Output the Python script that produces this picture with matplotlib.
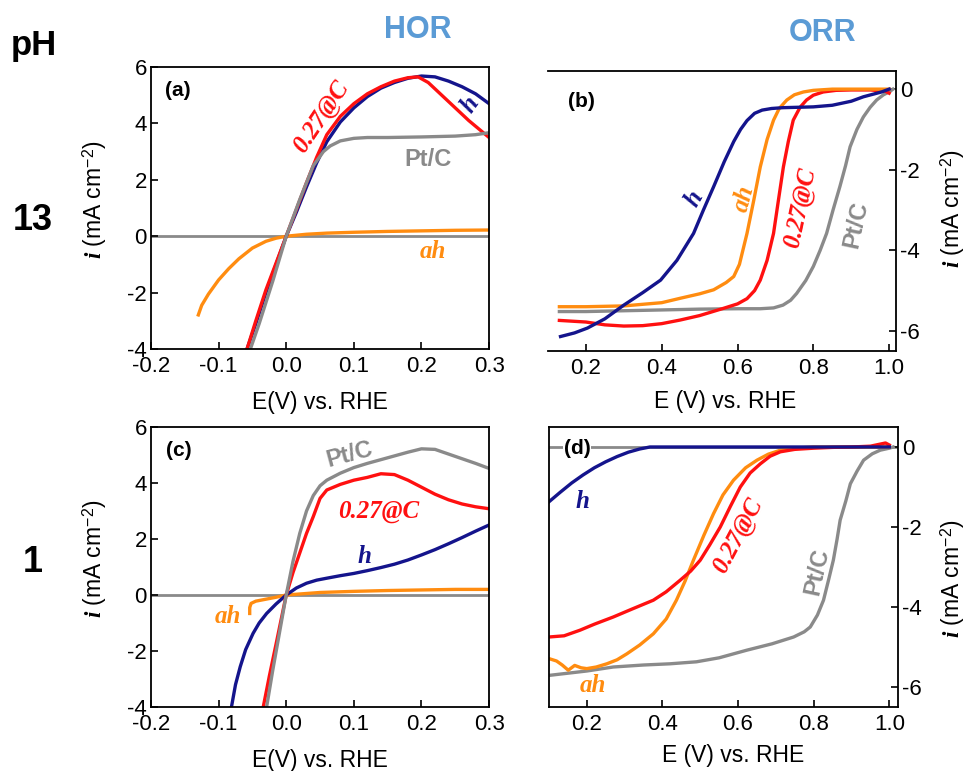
import matplotlib
matplotlib.use('Agg')
import matplotlib.pyplot as plt

plt.rcParams['font.family'] = ['Liberation Sans', 'DejaVu Sans']
plt.rcParams['axes.unicode_minus'] = False
plt.rcParams['mathtext.fontset'] = 'custom'
plt.rcParams['mathtext.rm'] = 'Liberation Sans'
plt.rcParams['mathtext.it'] = 'Liberation Serif:italic:bold'

RED = '#ff1010'
NAVY = '#14148c'
ORANGE = '#ff8c10'
GRAY = '#8a8a8a'
TITLE_BLUE = '#5b9bd5'

# ---- (a) HOR, pH 13 ----
a_red_E = [-0.058, -0.045, -0.03, -0.015, 0.0, 0.015, 0.03, 0.045, 0.06, 0.08, 0.10, 0.12,
           0.14, 0.16, 0.18, 0.195, 0.21, 0.23, 0.25, 0.27, 0.29, 0.30]
a_red_i = [-4.0, -3.0, -1.9, -0.95, 0.0, 0.95, 1.9, 2.8, 3.6, 4.25, 4.7, 5.05,
           5.3, 5.5, 5.62, 5.65, 5.45, 5.0, 4.55, 4.1, 3.7, 3.5]
a_h_E = [-0.058, -0.045, -0.03, -0.015, 0.0, 0.015, 0.03, 0.045, 0.06, 0.08, 0.10, 0.12,
         0.14, 0.16, 0.18, 0.20, 0.22, 0.24, 0.26, 0.28, 0.30]
a_h_i = [-4.0, -3.1, -2.0, -1.0, 0.0, 0.85, 1.75, 2.6, 3.35, 4.05, 4.55, 4.95,
         5.25, 5.45, 5.6, 5.68, 5.65, 5.5, 5.3, 5.05, 4.7]
a_pt_E = [-0.053, -0.04, -0.02, 0.0, 0.02, 0.04, 0.055, 0.065, 0.08, 0.10, 0.12, 0.15,
          0.20, 0.25, 0.28, 0.30]
a_pt_i = [-4.0, -3.1, -1.6, 0.0, 1.3, 2.5, 3.0, 3.2, 3.38, 3.47, 3.5, 3.5,
          3.52, 3.55, 3.6, 3.67]
a_ah_E = [-0.13, -0.125, -0.115, -0.10, -0.085, -0.07, -0.05, -0.03, -0.015, 0.0, 0.03,
          0.06, 0.1, 0.15, 0.2, 0.25, 0.3]
a_ah_i = [-2.79, -2.45, -2.05, -1.55, -1.15, -0.8, -0.42, -0.18, -0.07, 0.0, 0.07,
          0.11, 0.14, 0.17, 0.19, 0.21, 0.22]

# ---- (b) ORR, pH 13 ----
b_h_E = [0.133, 0.17, 0.204, 0.25, 0.3, 0.35, 0.397, 0.44, 0.484, 0.51, 0.537, 0.565, 0.59,
         0.608, 0.625, 0.645, 0.665, 0.69, 0.72, 0.76, 0.8, 0.85, 0.9, 0.932, 0.96, 0.98, 1.0]
b_h_i = [-6.14, -6.05, -5.93, -5.7, -5.36, -5.05, -4.74, -4.25, -3.58, -3.0, -2.42, -1.8, -1.3,
         -1.0, -0.78, -0.6, -0.52, -0.48, -0.46, -0.45, -0.44, -0.4, -0.3, -0.19, -0.12, -0.07, 0.0]
b_ah_E = [0.13, 0.2, 0.3, 0.4, 0.449, 0.5, 0.537, 0.57, 0.59, 0.605, 0.625, 0.643, 0.66,
          0.678, 0.695, 0.71, 0.73, 0.75, 0.774, 0.8, 0.85, 0.9, 1.0]
b_ah_i = [-5.4, -5.4, -5.38, -5.3, -5.19, -5.08, -4.98, -4.8, -4.65, -4.35, -3.58, -2.75, -1.93,
          -1.25, -0.77, -0.48, -0.27, -0.14, -0.07, -0.03, 0.0, 0.0, 0.0]
b_red_E = [0.13, 0.2, 0.25, 0.3, 0.35, 0.4, 0.449, 0.5, 0.563, 0.6, 0.625, 0.645, 0.66, 0.678,
           0.695, 0.708, 0.721, 0.734, 0.747, 0.765, 0.782, 0.8, 0.826, 0.86, 0.9, 0.95, 0.99, 1.0]
b_red_i = [-5.74, -5.78, -5.85, -5.88, -5.87, -5.82, -5.73, -5.62, -5.44, -5.33, -5.2, -5.0,
           -4.74, -4.25, -3.58, -2.75, -1.93, -1.3, -0.77, -0.45, -0.27, -0.15, -0.07, -0.03,
           -0.02, -0.02, -0.05, -0.1]
b_pt_E = [0.13, 0.2, 0.3, 0.4, 0.5, 0.6, 0.66, 0.695, 0.72, 0.74, 0.756, 0.78, 0.8, 0.818,
          0.835, 0.852, 0.87, 0.885, 0.897, 0.915, 0.932, 0.95, 0.967, 0.985, 1.0, 1.01]
b_pt_i = [-5.52, -5.52, -5.5, -5.48, -5.46, -5.45, -5.45, -5.43, -5.36, -5.24, -5.07, -4.75,
          -4.4, -4.0, -3.58, -3.0, -2.42, -1.9, -1.43, -1.0, -0.69, -0.45, -0.27, -0.14, -0.07, 0.0]

# ---- (c) HOR, pH 1 ----
c_pt_E = [-0.029, -0.02, -0.01, 0.0, 0.01, 0.02, 0.03, 0.04, 0.05, 0.06, 0.08, 0.10, 0.12,
          0.15, 0.18, 0.20, 0.22, 0.25, 0.28, 0.30]
c_pt_i = [-4.0, -2.7, -1.35, 0.0, 1.2, 2.2, 3.0, 3.55, 3.9, 4.1, 4.35, 4.55, 4.7,
          4.9, 5.1, 5.22, 5.2, 4.95, 4.7, 4.52]
c_red_E = [-0.034, -0.025, -0.015, 0.0, 0.01, 0.02, 0.03, 0.04, 0.05, 0.06, 0.08, 0.10, 0.12,
           0.14, 0.16, 0.18, 0.20, 0.22, 0.24, 0.26, 0.28, 0.30]
c_red_i = [-4.0, -2.9, -1.75, 0.0, 0.8, 1.5, 2.2, 2.8, 3.45, 3.75, 3.95, 4.1, 4.2,
           4.33, 4.3, 4.1, 3.85, 3.6, 3.4, 3.25, 3.15, 3.08]
c_h_E = [-0.081, -0.075, -0.068, -0.06, -0.049, -0.04, -0.029, -0.015, 0.0, 0.015, 0.03, 0.045,
         0.06, 0.08, 0.10, 0.12, 0.14, 0.16, 0.18, 0.20, 0.22, 0.24, 0.26, 0.28, 0.30]
c_h_i = [-4.0, -3.2, -2.56, -1.95, -1.37, -1.0, -0.66, -0.32, 0.0, 0.25, 0.42, 0.53,
         0.6, 0.69, 0.77, 0.87, 0.98, 1.1, 1.25, 1.43, 1.62, 1.83, 2.05, 2.28, 2.5]
c_ah_E = [-0.054, -0.054, -0.052, -0.045, -0.03, -0.015, 0.0, 0.05, 0.1, 0.15, 0.2, 0.25, 0.3]
c_ah_i = [-0.66, -0.45, -0.3, -0.22, -0.15, -0.08, 0.0, 0.09, 0.13, 0.16, 0.18, 0.2, 0.2]

# ---- (d) ORR, pH 1 ----
d_h_E = [0.1, 0.13, 0.16, 0.19, 0.22, 0.25, 0.28, 0.31, 0.34, 0.367, 0.4, 0.5, 0.6, 0.7, 0.8,
         0.9, 1.0]
d_h_i = [-1.37, -1.13, -0.9, -0.7, -0.52, -0.37, -0.24, -0.13, -0.05, 0.0, 0, 0, 0, 0, 0, 0, 0]
d_red_E = [0.1, 0.14, 0.182, 0.22, 0.27, 0.32, 0.376, 0.41, 0.447, 0.475, 0.5, 0.525, 0.553,
           0.58, 0.606, 0.632, 0.659, 0.685, 0.712, 0.75, 0.8, 0.85, 0.9, 0.95, 0.99, 1.0]
d_red_i = [-4.75, -4.72, -4.58, -4.43, -4.25, -4.05, -3.83, -3.62, -3.33, -3.1, -2.83, -2.45,
           -2.0, -1.48, -1.0, -0.65, -0.42, -0.23, -0.12, -0.06, -0.03, -0.01, 0.0, 0.02, 0.1, 0.05]
d_ah_E = [0.1, 0.12, 0.135, 0.151, 0.168, 0.185, 0.2, 0.225, 0.253, 0.28, 0.306, 0.34, 0.376,
          0.41, 0.437, 0.46, 0.482, 0.51, 0.535, 0.56, 0.588, 0.62, 0.65, 0.68, 0.712, 0.75,
          0.8, 0.9, 1.0]
d_ah_i = [-5.29, -5.35, -5.45, -5.58, -5.46, -5.52, -5.54, -5.5, -5.42, -5.32, -5.17, -4.95,
          -4.67, -4.3, -3.83, -3.35, -2.83, -2.2, -1.67, -1.2, -0.83, -0.52, -0.33, -0.18,
          -0.08, -0.03, 0.0, 0.0, 0.0]
d_pt_E = [0.1, 0.2, 0.27, 0.35, 0.42, 0.49, 0.55, 0.623, 0.69, 0.747, 0.775, 0.791, 0.81,
          0.826, 0.84, 0.852, 0.862, 0.87, 0.885, 0.897, 0.915, 0.932, 0.955, 0.976, 1.0, 1.01]
d_pt_i = [-5.71, -5.6, -5.5, -5.45, -5.42, -5.37, -5.27, -5.08, -4.92, -4.75, -4.62, -4.5,
          -4.2, -3.83, -3.3, -2.83, -2.3, -1.83, -1.35, -0.92, -0.6, -0.33, -0.17, -0.08,
          -0.03, 0.0]

hor_xticks = [-0.2, -0.1, 0.0, 0.1, 0.2, 0.3]
hor_yticks = [-4, -2, 0, 2, 4, 6]
orr_xticks = [0.2, 0.4, 0.6, 0.8, 1.0]
orr_yticks = [-6, -4, -2, 0]

LW = 2.4
TICK_FS = 16
LAB_FS = 16.5
PANEL_FS = 15
CURVE_FS = 18
ylabel = '$i$ (mA cm$^{-2}$)'

fig = plt.figure(figsize=(9.66, 7.71), dpi=100)
ax_a = fig.add_axes([0.1563, 0.5473, 0.3500, 0.3658])
ax_b = fig.add_axes([0.5673, 0.5447, 0.3602, 0.3632])
ax_c = fig.add_axes([0.1563, 0.0830, 0.3500, 0.3632])
ax_d = fig.add_axes([0.5683, 0.0830, 0.3613, 0.3632])


def style(ax, xticks, yticks, right=False):
    ax.set_xticks(xticks)
    ax.set_xticklabels(['%.1f' % t for t in xticks])
    ax.set_yticks(yticks)
    ax.set_yticklabels(['%d' % t for t in yticks])
    ax.tick_params(direction='in', length=5, width=1.2, labelsize=TICK_FS)
    ax.tick_params(axis='x', pad=5)
    ax.tick_params(axis='y', pad=3)
    for s in ax.spines.values():
        s.set_linewidth(1.3)
    if right:
        ax.yaxis.tick_right()
        ax.yaxis.set_label_position('right')


def serif_label(ax, x, y, s, color, rot=0, size=CURVE_FS):
    ax.text(x, y, s, color=color, rotation=rot, ha='center', va='center',
            fontsize=size, family='Liberation Serif', fontweight='bold', fontstyle='italic')


def sans_label(ax, x, y, s, color, rot=0, size=17):
    ax.text(x, y, s, color=color, rotation=rot, ha='center', va='center',
            fontsize=size, fontweight='bold')


# (a)
ax = ax_a
ax.axhline(0, color=GRAY, lw=2.0, zorder=1)
ax.plot(a_ah_E, a_ah_i, color=ORANGE, lw=LW)
ax.plot(a_h_E, a_h_i, color=NAVY, lw=LW)
ax.plot(a_red_E, a_red_i, color=RED, lw=LW)
ax.plot(a_pt_E, a_pt_i, color=GRAY, lw=LW)
ax.set_xlim(-0.2, 0.3)
ax.set_ylim(-4, 6)
style(ax, hor_xticks, hor_yticks)
ax.set_xlabel('E(V) vs. RHE', fontsize=LAB_FS)
ax.set_ylabel(ylabel, fontsize=LAB_FS)
ax.xaxis.set_label_coords(0.5, -0.15)
ax.yaxis.set_label_coords(-0.125, 0.53)
sans_label(ax, -0.16, 5.16, '(a)', 'black', size=PANEL_FS)
serif_label(ax, 0.0525, 4.24, '0.27@C', RED, rot=56)
serif_label(ax, 0.272, 4.65, 'h', NAVY, rot=55)
sans_label(ax, 0.209, 2.73, 'Pt/C', GRAY)
serif_label(ax, 0.217, -0.55, 'ah', ORANGE)

# (b)
ax = ax_b
ax.plot(b_pt_E, b_pt_i, color=GRAY, lw=LW)
ax.plot(b_red_E, b_red_i, color=RED, lw=LW)
ax.plot(b_ah_E, b_ah_i, color=ORANGE, lw=LW)
ax.plot(b_h_E, b_h_i, color=NAVY, lw=LW)
ax.set_xlim(0.1, 1.018)
ax.set_ylim(-6.5, 0.45)
style(ax, orr_xticks, orr_yticks, right=True)
ax.spines['left'].set_visible(False)
ax.set_xlabel('E (V) vs. RHE', fontsize=LAB_FS)
ax.set_ylabel(ylabel, fontsize=LAB_FS)
ax.xaxis.set_label_coords(0.509, -0.14)
ax.yaxis.set_label_coords(1.12, 0.51)
sans_label(ax, 0.189, -0.31, '(b)', 'black', size=PANEL_FS)
serif_label(ax, 0.487, -2.71, 'h', NAVY, rot=60)
serif_label(ax, 0.616, -2.71, 'ah', ORANGE, rot=75)
serif_label(ax, 0.765, -2.96, '0.27@C', RED, rot=78)
sans_label(ax, 0.912, -3.37, 'Pt/C', GRAY, rot=78)

# (c)
ax = ax_c
ax.axhline(0, color=GRAY, lw=2.0, zorder=1)
ax.plot(c_ah_E, c_ah_i, color=ORANGE, lw=LW)
ax.plot(c_h_E, c_h_i, color=NAVY, lw=LW)
ax.plot(c_red_E, c_red_i, color=RED, lw=LW)
ax.plot(c_pt_E, c_pt_i, color=GRAY, lw=LW)
ax.set_xlim(-0.2, 0.3)
ax.set_ylim(-4, 6)
style(ax, hor_xticks, hor_yticks)
ax.set_xlabel('E(V) vs. RHE', fontsize=LAB_FS)
ax.set_ylabel(ylabel, fontsize=LAB_FS)
ax.xaxis.set_label_coords(0.5, -0.15)
ax.yaxis.set_label_coords(-0.125, 0.53)
sans_label(ax, -0.159, 5.15, '(c)', 'black', size=PANEL_FS)
sans_label(ax, 0.093, 5.0, 'Pt/C', GRAY, rot=15)
serif_label(ax, 0.137, 2.98, '0.27@C', RED)
serif_label(ax, 0.116, 1.37, 'h', NAVY)
serif_label(ax, -0.087, -0.78, 'ah', ORANGE)

# (d)
ax = ax_d
ax.axhline(0, color=GRAY, lw=2.0, zorder=1)
ax.plot(d_pt_E, d_pt_i, color=GRAY, lw=LW)
ax.plot(d_ah_E, d_ah_i, color=ORANGE, lw=LW)
ax.plot(d_red_E, d_red_i, color=RED, lw=LW)
ax.plot(d_h_E, d_h_i, color=NAVY, lw=LW)
ax.set_xlim(0.1, 1.023)
ax.set_ylim(-6.5, 0.5)
style(ax, orr_xticks, orr_yticks, right=True)
ax.set_xlabel('E (V) vs. RHE', fontsize=LAB_FS)
ax.set_ylabel(ylabel, fontsize=LAB_FS)
ax.xaxis.set_label_coords(0.527, -0.132)
ax.yaxis.set_label_coords(1.115, 0.46)
ax.text(0.174, -0.04, '(d)', ha='center', va='center', fontsize=PANEL_FS, fontweight='bold',
        bbox=dict(facecolor='white', edgecolor='none', pad=0.5), zorder=5)
serif_label(ax, 0.189, -1.37, 'h', NAVY)
serif_label(ax, 0.601, -2.21, '0.27@C', RED, rot=62)
sans_label(ax, 0.808, -3.12, 'Pt/C', GRAY, rot=78)
serif_label(ax, 0.215, -5.96, 'ah', ORANGE)

# row / column headers
fig.text(34 / 966, 1 - 45 / 771, 'pH', fontsize=25, fontweight='bold', ha='center', va='center')
fig.text(33 / 966, 1 - 220 / 771, '13', fontsize=26, fontweight='bold', ha='center', va='center')
fig.text(33 / 966, 1 - 563 / 771, '1', fontsize=26, fontweight='bold', ha='center', va='center')
fig.text(418 / 966, 1 - 30 / 771, 'HOR', fontsize=22, fontweight='bold', color=TITLE_BLUE,
         ha='center', va='center')
fig.text(822 / 966, 1 - 33 / 771, 'ORR', fontsize=22, fontweight='bold', color=TITLE_BLUE,
         ha='center', va='center')

fig.savefig('out.png', dpi=100)
